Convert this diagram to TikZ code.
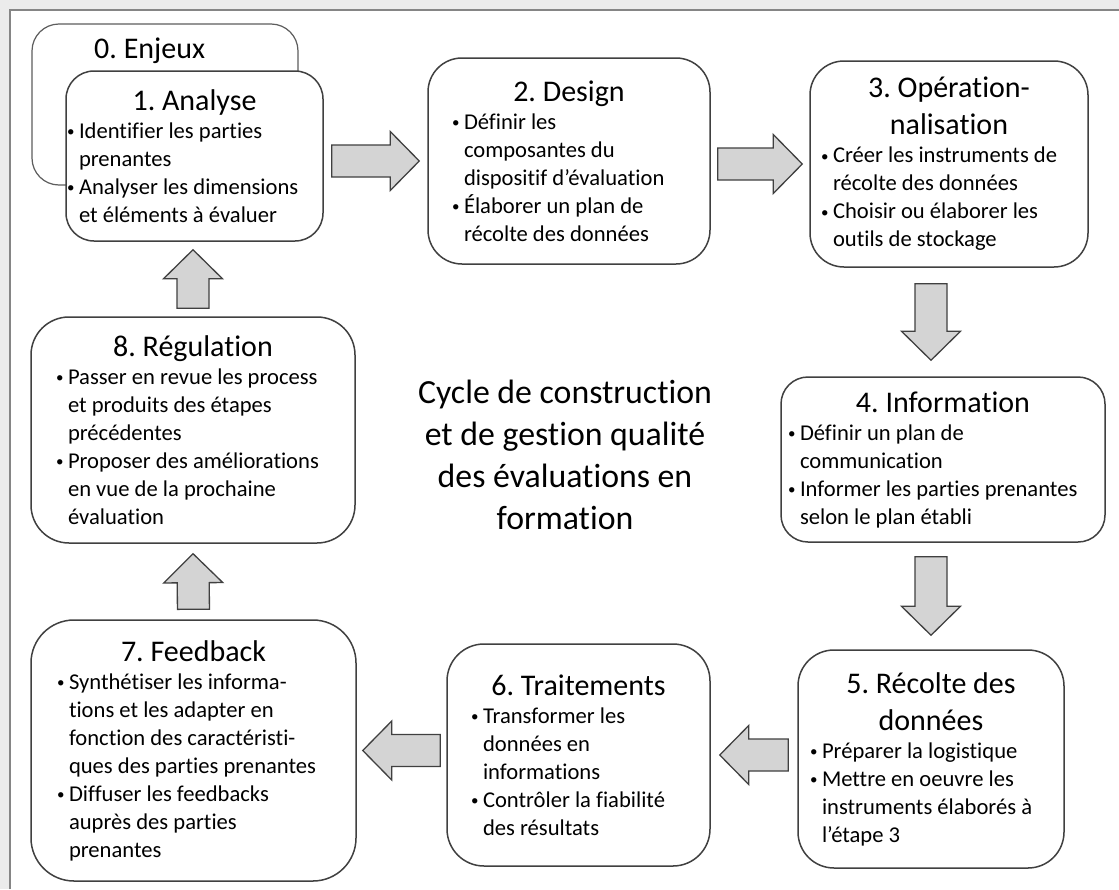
\documentclass[tikz,border=0pt]{standalone}
\usepackage{fontspec}
\setmainfont{Carlito}[Ligatures=NoCommon]
\usetikzlibrary{calc}
\definecolor{traitgris}{HTML}{404040}
\definecolor{cadregris}{HTML}{858585}
\definecolor{fondgris}{HTML}{EBEBEB}
\definecolor{flechegris}{HTML}{D4D4D4}
\frenchspacing
\newcommand{\policecorps}{\fontsize{22.6pt}{28pt}\selectfont}
\newcommand{\policetitre}{\fontsize{30pt}{37pt}\selectfont}
\newcommand{\policecentre}{\fontsize{33.8pt}{42pt}\selectfont}
\newcommand{\titre}[1]{{\centering\noindent\spaceskip=0pt\xspaceskip=0pt\policetitre #1\par}}
\newcommand{\puce}[1]{{\spaceskip=0pt\xspaceskip=0pt\hangindent=12pt\hangafter=1\noindent\makebox[12pt][l]{\raisebox{1.5pt}{\fontsize{15pt}{15pt}\selectfont•}}#1\par}}
\begin{document}
\begin{tikzpicture}[x=1pt,y=-1pt,
  etape/.style={draw=traitgris, line width=1.5pt, fill=white, inner sep=0pt, align=left, font=\policecorps},
  block gap/.store in=\blockgap, block gap=8pt,
  blockarrow/.style={draw=traitgris, fill=flechegris, line width=1.3pt,
    to path={let \p1=($(\tikztostart)!\blockgap!(\tikztotarget)$),
                 \p2=($(\tikztotarget)!\blockgap!(\tikztostart)$),
                 \p3=($(\p2)!29pt!(\p1)$) in
      ($(\p1)!16pt!90:(\p2)$) -- ($(\p3)!16pt!-90:(\p1)$) -- ($(\p3)!29.5pt!-90:(\p1)$) -- (\p2)
      -- ($(\p3)!29.5pt!90:(\p1)$) -- ($(\p3)!16pt!90:(\p1)$) -- ($(\p1)!16pt!-90:(\p2)$) -- cycle}}]
\useasboundingbox (0,0) rectangle (1119,889);
\fill[fondgris] (0,0) rectangle (1119,889);
\fill[white] (10,10) rectangle (1119,889);
\draw[cadregris, line width=2pt] (10,889) -- (10,10) -- (1119,10);

\node[etape, draw=traitgris!85, line width=1.2pt, rounded corners=27pt, minimum width=266pt, minimum height=161pt] (n0) at (165,104.5) {};
\node[font=\policetitre, anchor=base west, inner sep=0pt] (t0) at (94,58) {0. Enjeux};
\node[etape, rounded corners=28pt, minimum width=257pt, minimum height=170pt, text width=255pt] (n1) at (194.5,156)
  {\titre{1. Analyse}\puce{Identifier les parties\newline prenantes}\puce{Analyser les dimensions\newline et éléments à évaluer}\vspace{14pt}};
\node[etape, rounded corners=34pt, minimum width=282pt, minimum height=206pt, text width=234pt] (n2) at (569,161)
  {\titre{2. Design}\puce{Définir les\newline composantes du\newline dispositif d’évaluation}\puce{Élaborer un plan de\newline récolte des données}};
\node[etape, rounded corners=34pt, minimum width=278pt, minimum height=206pt, text width=256pt] (n3) at (949,164)
  {\titre{3. Opération-\\nalisation}\puce{Créer les instruments de\newline récolte des données}\puce{Choisir ou élaborer les\newline outils de stockage}};
\node[etape, rounded corners=27pt, minimum width=324pt, minimum height=165pt, text width=310pt] (n4) at (943,459.5)
  {\titre{4. Information}\puce{Définir un plan de\newline communication}\puce{Informer les parties prenantes\newline selon le plan établi}};
\node[etape, rounded corners=36pt, minimum width=266pt, minimum height=218pt, text width=242pt] (n5) at (931,759)
  {\titre{5. Récolte des\\données}\puce{Préparer la logistique}\puce{Mettre en oeuvre les\newline instruments élaborés à\newline l’étape 3}};
\node[etape, rounded corners=37pt, minimum width=263pt, minimum height=222pt, text width=215pt] (n6) at (578.5,755)
  {\titre{6. Traitements}\puce{Transformer les\newline données en\newline informations}\puce{Contrôler la fiabilité\newline des résultats}};
\node[etape, rounded corners=43pt, minimum width=325pt, minimum height=261pt, text width=273pt] (n7) at (193.5,750.5)
  {\titre{7. Feedback}\puce{Synthétiser les informa-\newline tions et les adapter en\newline fonction des caractéristi-\newline ques des parties prenantes}\puce{Diffuser les feedbacks\newline auprès des parties\newline prenantes}};
\node[etape, rounded corners=38pt, minimum width=324pt, minimum height=226pt, text width=274pt] (n8) at (193,430)
  {\titre{8. Régulation}\puce{Passer en revue les process\newline et produits des étapes\newline précédentes}\puce{Proposer des améliorations\newline en vue de la prochaine\newline évaluation}};
\node[font=\policecentre, align=center, inner sep=0pt] (cycle) at (565,455)
  {Cycle de construction\\et de gestion qualité\\des évaluations en\\formation};

\draw[blockarrow] (n1.east |- n2.west) to (n2.west);
\draw[blockarrow, block gap=7pt] (n2.east |- n3.west) to (n3.west);
\draw[blockarrow, block gap=16pt] (n3.south -| n5.north) to (n4.north -| n5.north);
\draw[blockarrow, block gap=14pt] (n4.south -| n5.north) to (n5.north);
\draw[blockarrow, block gap=9pt] (n5.west |- n6.east) to (n6.east);
\draw[blockarrow, block gap=6pt] (n6.west |- n7.east) to (n7.east);
\draw[blockarrow, block gap=10pt] (n7.north) to (n8.south);
\draw[blockarrow] (n8.north) to (n1.south -| n8.north);
\end{tikzpicture}
\end{document}
